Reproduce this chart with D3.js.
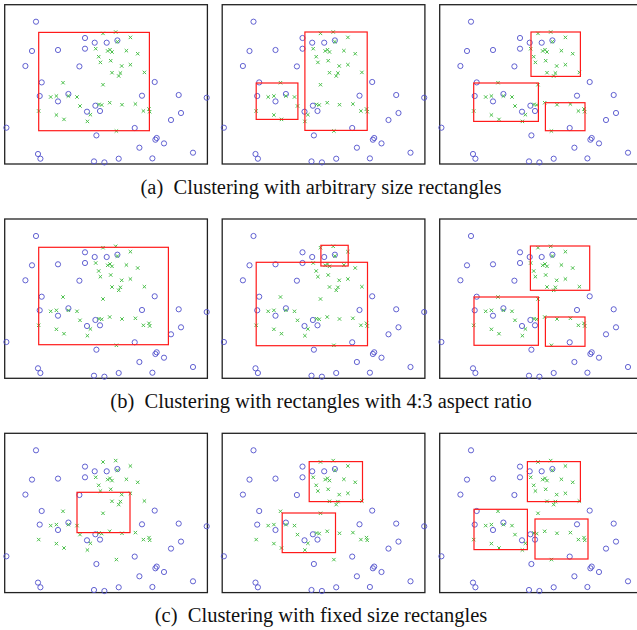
<!DOCTYPE html>
<html>
<head>
<meta charset="utf-8">
<script src="https://cdn.jsdelivr.net/npm/d3@7"></script>
<style>
  body { margin: 0; background: #fff; }
  svg { display: block; }
  .cap { font-family: "Liberation Serif", "DejaVu Serif", serif; font-size: 20.5px; fill: #111; }
</style>
</head>
<body>
<div id="chart"></div>
<script>
// points (same data set in every panel), panel units
var blueU = [31.3, 27.3, 20.7, 53.3, 80.3, 90, 102, 112.7, 80.3, 74.7, 37, 35, 63.7, 53.3, 90.7, 95.3, 82.3,
  150, 137.3, 174, 202, 176.3, 166.3, 130, 1.7, 91.7, 152, 150.7, 159.3, 134.7, 188.3, 33.3, 35.7, 89.3, 99.7, 114, 147.7];
var blueV = [17, 46.3, 61.3, 45.3, 33.3, 38, 38, 35.7, 44, 61.7, 77.7, 91.3, 89.3, 96.7, 101, 106.3, 107,
  77.3, 91, 90.3, 93, 108.3, 115.3, 123.3, 123, 130.7, 133.3, 135, 138.7, 143, 148, 149.3, 154, 156.7, 157.7, 154, 153.7];

var greenU = [98.3, 111, 125.7, 112.7, 91, 103, 105.3, 107.3, 121.7, 133, 94, 95.7, 106, 117, 125.7, 107.3, 115.7, 114, 139.7,
  58.3, 98.3, 46, 51.7, 63.7, 72.3, 75.3, 94.3, 97, 105, 117.3, 130.7, 34, 51.7, 59.3, 85.7, 82.7, 138.7, 144.3, 145, 111.7];
var greenV = [28.7, 27.3, 32.7, 37, 44, 46.3, 45, 47.3, 46, 49, 52, 57.7, 56, 61.3, 60, 68, 68.3, 71.3, 67.7,
  78, 80, 92.3, 91.3, 91.3, 92.3, 101.3, 99.7, 100.3, 98, 100, 99.3, 106.3, 110.3, 114.7, 110, 116.7, 106.3, 104.3, 107, 126.3];

// cluster rectangles per panel [u0, v0, u1, v1], row by row
var rectsA1 = [[34, 27.7, 144.7, 126]];
var rectsA2 = [[34, 78.3, 75.7, 114.7], [82.7, 27.3, 145, 125.7]];
var rectsA3 = [[91.3, 27.3, 140.7, 71.7], [34, 78.3, 98.7, 116.7], [105.7, 98, 145.3, 126]];
var rectsB1 = [[34, 28.3, 163.7, 125.7]];
var rectsB2 = [[98.7, 26.3, 126, 47], [34, 43.3, 145.3, 126.7]];
var rectsB3 = [[90.7, 27, 150, 71.3], [34.3, 78, 98.7, 126.3], [105.7, 98, 145.3, 127.3]];
var rectsC1 = [[72.3, 59, 125.3, 99.3]];
var rectsC2 = [[87, 28.3, 140.3, 68.3], [60, 79.7, 113.3, 119.3]];
var rectsC3 = [[87.7, 28.3, 140.7, 68.3], [34.3, 76, 87.7, 116.3], [95.3, 85.7, 148.3, 125.7]];

var captions = ["(a)\u2002Clustering with arbitrary size rectangles",
  "(b)\u2002Clustering with rectangles with 4:3 aspect ratio",
  "(c)\u2002Clustering with fixed size rectangles"];

var panelRects = [[rectsA1, rectsA2, rectsA3], [rectsB1, rectsB2, rectsB3], [rectsC1, rectsC2, rectsC3]];

var width = 637, height = 630;
var pw = 202.7, ph = 159.3;
var colX = [4.7, 222.2, 439.7];
var rowY = [4.7, 219, 433.3];

var x = d3.scaleLinear().domain([0, 202.7]).range([0, pw]);
var y = d3.scaleLinear().domain([0, 159.3]).range([0, ph]);

var blue = blueU.map((u, i) => ({u: u, v: blueV[i]}));
var green = greenU.map((u, i) => ({u: u, v: greenV[i]}));

var svg = d3.select("#chart").append("svg")
  .attr("width", width)
  .attr("height", height);

panelRects.forEach(function(row, r) {
  row.forEach(function(rects, c) {
    var g = svg.append("g")
      .attr("transform", "translate(" + colX[c] + "," + rowY[r] + ")");

    g.append("rect")
      .attr("width", pw).attr("height", ph)
      .attr("fill", "none").attr("stroke", "#222").attr("stroke-width", 1.3);

    g.selectAll(".pt").data(blue).enter().append("circle")
      .attr("cx", d => x(d.u)).attr("cy", d => y(d.v)).attr("r", 2.6)
      .attr("fill", "none").attr("stroke", "#5050cc").attr("stroke-width", 0.9);

    var s = 1.7;
    g.selectAll(".cr").data(green).enter().append("path")
      .attr("d", d => { var px = x(d.u), py = y(d.v);
        return "M" + (px - s) + "," + (py - s) + "L" + (px + s) + "," + (py + s) +
               "M" + (px - s) + "," + (py + s) + "L" + (px + s) + "," + (py - s); })
      .attr("stroke", "#4cc04c").attr("stroke-width", 1).attr("fill", "none");

    g.selectAll(".cl").data(rects).enter().append("rect")
      .attr("x", d => x(d[0])).attr("y", d => y(d[1]))
      .attr("width", d => x(d[2]) - x(d[0])).attr("height", d => y(d[3]) - y(d[1]))
      .attr("fill", "none").attr("stroke", "#ff1a1a").attr("stroke-width", 1.2);
  });

  svg.append("text")
    .attr("class", "cap")
    .attr("x", 321).attr("y", rowY[r] + 189)
    .attr("text-anchor", "middle")
    .text(captions[r]);
});
</script>
</body>
</html>
